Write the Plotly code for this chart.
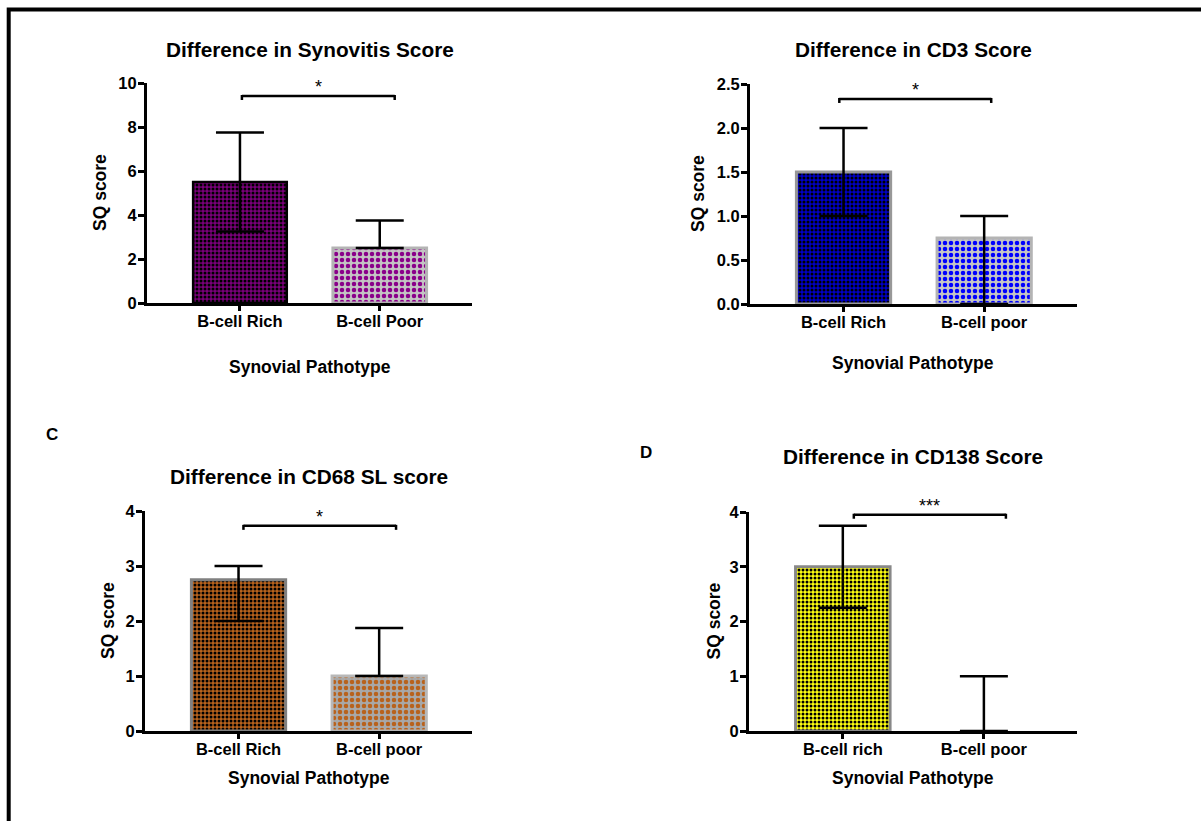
import plotly.graph_objects as go

W, H = 1201, 821

# ---------------- data ----------------
syn_labels = ["B-cell Rich", "B-cell Poor"]
syn_median = [5.5, 2.5]
syn_q1 = [3.25, 2.5]
syn_q3 = [7.75, 3.75]

cd3_labels = ["B-cell Rich", "B-cell poor"]
cd3_median = [1.5, 0.75]
cd3_q1 = [1.0, 0.0]
cd3_q3 = [2.0, 1.0]

cd68_labels = ["B-cell Rich", "B-cell poor"]
cd68_median = [2.75, 1.0]
cd68_q1 = [2.0, 1.0]
cd68_q3 = [3.0, 1.875]

cd138_labels = ["B-cell rich", "B-cell poor"]
cd138_median = [3.0, 0.0]
cd138_q1 = [2.25, 0.0]
cd138_q3 = [3.75, 1.0]

titles = ["Difference in Synovitis Score", "Difference in CD3 Score",
          "Difference in CD68 SL score", "Difference in CD138 Score"]
significance = ["*", "*", "*", "***"]
y_title = "SQ score"
x_title = "Synovial Pathotype"


def px(x):
    return x / W


def py(y):
    return 1 - y / H


FONT = "Liberation Sans, Arial, sans-serif"

panels = [
    dict(labels=syn_labels, med=syn_median, q1=syn_q1, q3=syn_q3,
         ymax=10, dtick=2, fmt="d",
         xdom=(147, 472), ydom=(83, 303),
         fg=["#000000", "#8a008a"], bg=["#7a007a", "#c4c4c4"],
         line=["#000000", "#b4b4b4"], lw=[2.5, 3], psize=[4, 6],
         br=(0.014, 1.107, 9.41),
         title_y=49, ytitle_x=100, xtitle_y=367, letter=None),
    dict(labels=cd3_labels, med=cd3_median, q1=cd3_q1, q3=cd3_q3,
         ymax=2.5, dtick=0.5, fmt=".1f",
         xdom=(750, 1077), ydom=(84, 304),
         fg=["#000000", "#0000ff"], bg=["#0000c8", "#c4c4c4"],
         line=["#989898", "#b4b4b4"], lw=[3, 3], psize=[4, 6],
         br=(-0.03, 1.05, 2.33),
         title_y=49, ytitle_x=698, xtitle_y=363, letter=None),
    dict(labels=cd68_labels, med=cd68_median, q1=cd68_q1, q3=cd68_q3,
         ymax=4, dtick=1, fmt="d",
         xdom=(145, 472), ydom=(511, 731),
         fg=["#000000", "#b8621c"], bg=["#b8621c", "#a8a8a8"],
         line=["#808080", "#b8b8b8"], lw=[3, 3], psize=[4, 6],
         br=(0.035, 1.12, 3.73),
         title_y=476, ytitle_x=108, xtitle_y=778, letter=("C", 52, 435)),
    dict(labels=cd138_labels, med=cd138_median, q1=cd138_q1, q3=cd138_q3,
         ymax=4, dtick=1, fmt="d",
         xdom=(749, 1077), ydom=(512, 731),
         fg=["#000000", "#000000"], bg=["#ffff10", "#ffff10"],
         line=["#888888", "#888888"], lw=[3, 3], psize=[4, 4],
         br=(0.078, 1.156, 3.95),
         title_y=457, ytitle_x=713, xtitle_y=778, letter=("D", 646, 453)),
]

fig = go.Figure()
annotations = []
shapes = []

for i, p in enumerate(panels):
    n = "" if i == 0 else str(i + 1)
    xa, ya = "x" + n, "y" + n
    xs = list(range(len(p["labels"])))
    for j in xs:
        plus = p["q3"][j] - p["med"][j]
        minus = p["med"][j] - p["q1"][j]
        border = p["lw"][j] if p["med"][j] > 0 else 0
        fig.add_trace(go.Bar(
            x=[j], y=[p["med"][j]], width=0.67, xaxis=xa, yaxis=ya,
            marker=dict(
                color=p["bg"][j],
                line=dict(color=p["line"][j], width=border),
                pattern=dict(shape=".", fgcolor=p["fg"][j], bgcolor=p["bg"][j],
                             size=p["psize"][j], solidity=0.45, fillmode="replace"),
            ),
            error_y=dict(type="data", symmetric=False, array=[plus], arrayminus=[minus],
                         color="black", thickness=2.5, width=24),
            showlegend=False, hoverinfo="skip",
        ))
    x0, x1 = p["xdom"]
    ytop, ybot = p["ydom"]
    fig.update_layout(**{
        ("xaxis" + n): dict(
            domain=[px(x0), px(x1)], range=[-0.665, 1.66], anchor=ya,
            tickvals=xs, ticktext=p["labels"], showline=True, linecolor="black",
            linewidth=3, ticks="outside", ticklen=5, tickwidth=3, tickcolor="black",
            tickfont=dict(family=FONT, size=16.5, color="black", weight="bold"),
            showgrid=False, zeroline=False, fixedrange=True, ticklabelstandoff=-4,
            automargin=False,
        ),
        ("yaxis" + n): dict(
            domain=[py(ybot), py(ytop)], range=[0, p["ymax"]], anchor=xa,
            dtick=p["dtick"], tick0=0, tickformat=p["fmt"], showline=True,
            linecolor="black", linewidth=3, ticks="outside", ticklen=6, tickwidth=3,
            tickcolor="black",
            tickfont=dict(family=FONT, size=16.5, color="black", weight="bold"),
            showgrid=False, zeroline=False, fixedrange=True, ticklabelstandoff=-2,
            automargin=False,
        ),
    })
    cx = (x0 + x1) / 2
    annotations.append(dict(text="<b>%s</b>" % titles[i], x=px(cx), y=py(p["title_y"]),
                            xref="paper", yref="paper", showarrow=False,
                            xanchor="center", yanchor="middle",
                            font=dict(family=FONT, size=20.8, color="black")))
    annotations.append(dict(text="<b>%s</b>" % y_title, x=px(p["ytitle_x"]),
                            y=py((ytop + ybot) / 2), xref="paper", yref="paper",
                            showarrow=False, textangle=-90, xanchor="center",
                            yanchor="middle",
                            font=dict(family=FONT, size=17.5, color="black")))
    annotations.append(dict(text="<b>%s</b>" % x_title, x=px(cx), y=py(p["xtitle_y"]),
                            xref="paper", yref="paper", showarrow=False,
                            xanchor="center", yanchor="middle",
                            font=dict(family=FONT, size=17.5, color="black")))
    if p["letter"]:
        t, lx, ly = p["letter"]
        annotations.append(dict(text="<b>%s</b>" % t, x=px(lx), y=py(ly),
                                xref="paper", yref="paper", showarrow=False,
                                xanchor="center", yanchor="middle",
                                font=dict(family=FONT, size=17, color="black")))
    bx0, bx1, by = p["br"]
    shapes.append(dict(type="line", xref=xa, yref=ya, x0=bx0, x1=bx1, y0=by, y1=by,
                       line=dict(color="black", width=2.5)))
    for bx in (bx0, bx1):
        shapes.append(dict(type="line", xref=xa, yref=ya, x0=bx, x1=bx,
                           ysizemode="pixel", yanchor=by, y0=1, y1=-4,
                           line=dict(color="black", width=2.5)))
    annotations.append(dict(text=significance[i], x=(bx0 + bx1) / 2, y=by,
                            xref=xa, yref=ya, showarrow=False, xanchor="center",
                            yanchor="bottom", yshift=-3,
                            font=dict(family=FONT, size=18, color="black")))

# outer frame (only top and left edges are inside the picture)
shapes.append(dict(type="rect", xref="paper", yref="paper",
                   x0=px(8.7), x1=px(W + 20), y0=py(H + 20), y1=py(9.5),
                   line=dict(color="black", width=4), fillcolor="rgba(0,0,0,0)"))

fig.update_layout(
    template="none",
    width=W, height=H, margin=dict(l=0, r=0, t=0, b=0, pad=0, autoexpand=False),
    paper_bgcolor="white", plot_bgcolor="white",
    barmode="overlay", annotations=annotations, shapes=shapes,
    font=dict(family=FONT, color="black"), showlegend=False,
)

pin = ("document.body.style.margin='0';"
       "var gd=document.getElementById('{plot_id}');"
       "gd.style.position='fixed';gd.style.left='0px';gd.style.top='0px';")

fig.write_html("out.html", post_script=pin, config={"displayModeBar": False})
